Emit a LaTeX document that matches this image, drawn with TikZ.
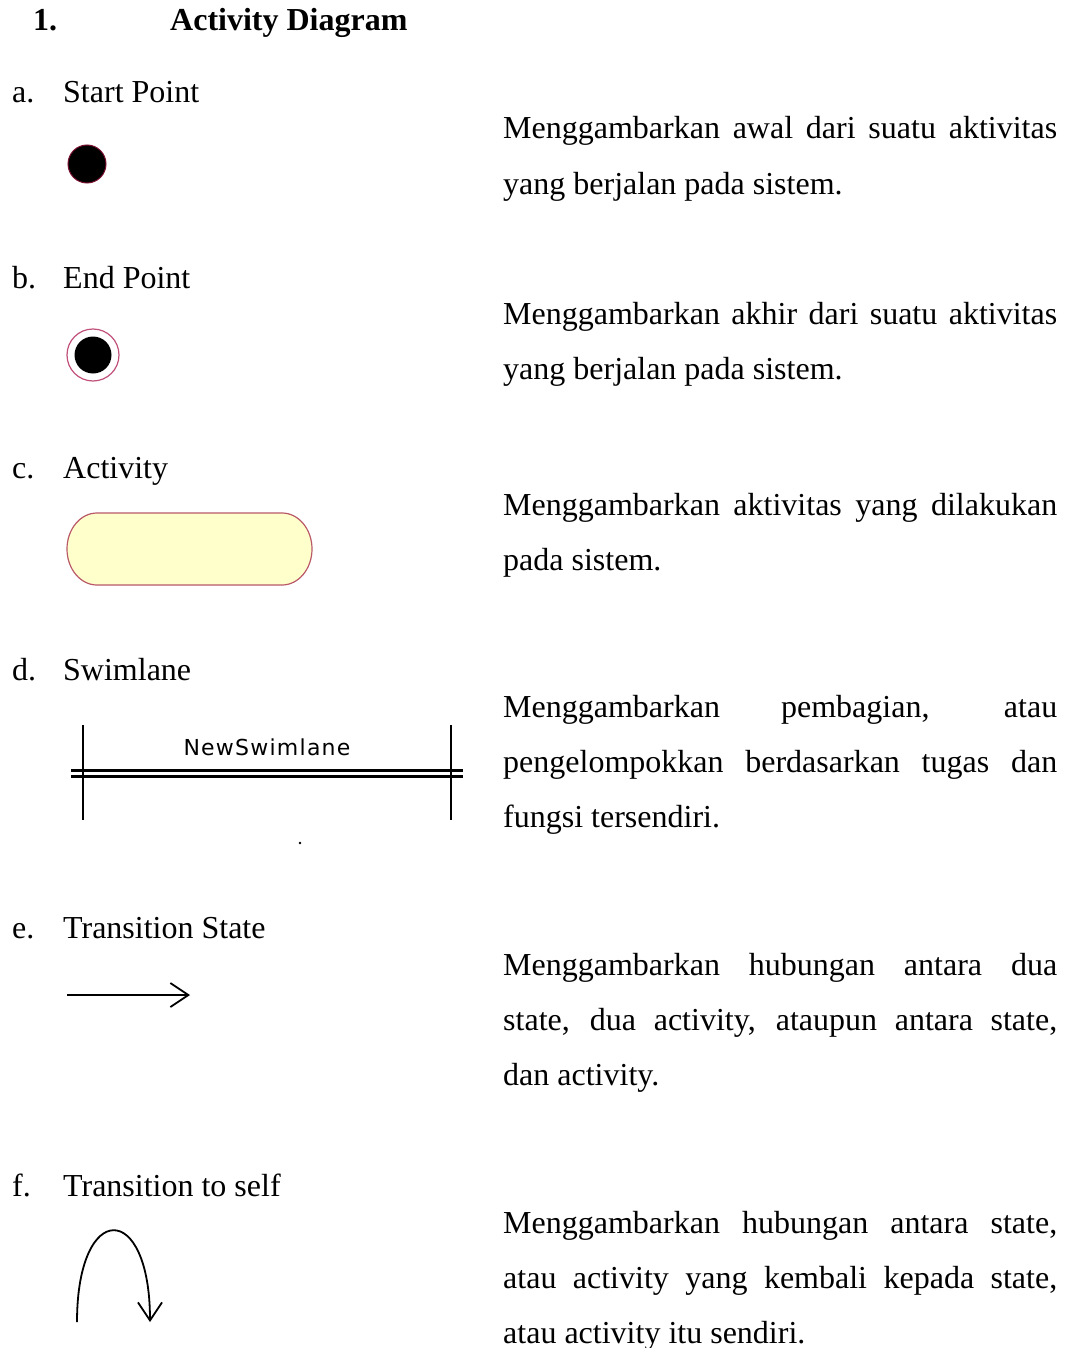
\documentclass[tikz,border=0pt]{standalone}
\usepackage{fontspec}
\setmainfont{Liberation Serif}
\newfontfamily\lanefont[LetterSpace=5.6]{DejaVu Sans}
\usetikzlibrary{arrows.meta}

\definecolor{actfill}{HTML}{FFFFCC}
\definecolor{actline}{HTML}{B85868}
\definecolor{endline}{HTML}{C0507A}
\definecolor{startline}{HTML}{7A1030}

\newcommand{\wordspacing}{\hyphenpenalty=10000\exhyphenpenalty=10000\tolerance=10000\spaceskip=8pt plus 24pt minus 0pt\relax}

\tikzset{
    every node/.style={inner sep=0pt},
    item/.style={anchor=base west, font=\fontsize{32}{38}\selectfont},
    desc/.style={anchor=base west, text width=554pt, align=justify,
                 font=\fontsize{32}{55.3}\selectfont\wordspacing},
    lane/.style={line width=2.6pt},
    trans/.style={line width=1.8pt, -{Straight Barb[length=18pt,width=24pt,line width=1.8pt]}}
}

\begin{document}
\begin{tikzpicture}[x=1pt,y=-1pt]
            \useasboundingbox (0,0) rectangle (1065,1348);

            % title
            \node[item, font=\fontsize{32}{38}\selectfont\bfseries] (num) at (33,31) {1.};
            \node[item, font=\fontsize{32}{38}\selectfont\bfseries] (title) at (170,31) {Activity Diagram};

            % labels
            \node[item] (a) at (12,103) {a.};
            \node[item] (an) at (63,103) {Start Point};
            \node[item] (b) at (12,288) {b.};
            \node[item] (bn) at (63,288) {End Point};
            \node[item] (c) at (12,478) {c.};
            \node[item] (cn) at (63,478) {Activity};
            \node[item] (d) at (12,680) {d.};
            \node[item] (dn) at (63,680) {Swimlane};
            \node[item] (e) at (12,938) {e.};
            \node[item] (en) at (63,938) {Transition State};
            \node[item] (f) at (12,1196) {f.};
            \node[item] (fn) at (63,1196) {Transition to self};

            % descriptions
            \node[desc] (ad) at (503,139) {Menggambarkan awal dari suatu aktivitas yang berjalan pada sistem.};
            \node[desc] (bd) at (503,324) {Menggambarkan akhir dari suatu aktivitas yang berjalan pada sistem.};
            \node[desc] (cd) at (503,515) {Menggambarkan aktivitas yang dilakukan pada sistem.};
            \node[desc] (dd) at (503,717) {Menggambarkan pembagian, atau pengelompokkan berdasarkan tugas dan fungsi tersendiri.};
            \node[desc] (ed) at (503,975) {Menggambarkan hubungan antara dua state, dua activity, ataupun antara state, dan activity.};
            \node[desc] (fd) at (503,1233) {Menggambarkan hubungan antara state, atau activity yang kembali kepada state, atau activity itu sendiri.};

            % start point
            \filldraw[fill=black, draw=startline, line width=1pt] (87,164) circle (19);

            % end point
            \draw[endline, line width=1.2pt] (93,355) circle (26);
            \fill[black] (93,355) circle (18.5);

            % activity
            \filldraw[fill=actfill, draw=actline, line width=1.2pt]
                (97,513) -- (282,513) arc (-90:90:30 and 36) -- (97,585) arc (90:270:30 and 36) -- cycle;

            % swimlane
            \node[font=\lanefont\fontsize{22}{26}\selectfont] (lane) at (267,747) {NewSwimlane};
            \draw[lane] (83,725) -- (83,820);
            \draw[lane] (451,725) -- (451,820);
            \draw[lane] (71,770.5) -- (463,770.5);
            \draw[lane] (71,776.5) -- (463,776.5);
            \fill (300,843) circle (1.3);

            % transition
            \coordinate (t1) at (67,995);
            \coordinate (t2) at (190,995);
            \draw[trans] (t1) -- (t2);

            % transition to self
            \coordinate (s1) at (77,1322);
            \coordinate (s2) at (150,1322);
            \draw[trans] (s1) .. controls (77,1200) and (150,1200) .. (s2);

\end{tikzpicture}
\end{document}
